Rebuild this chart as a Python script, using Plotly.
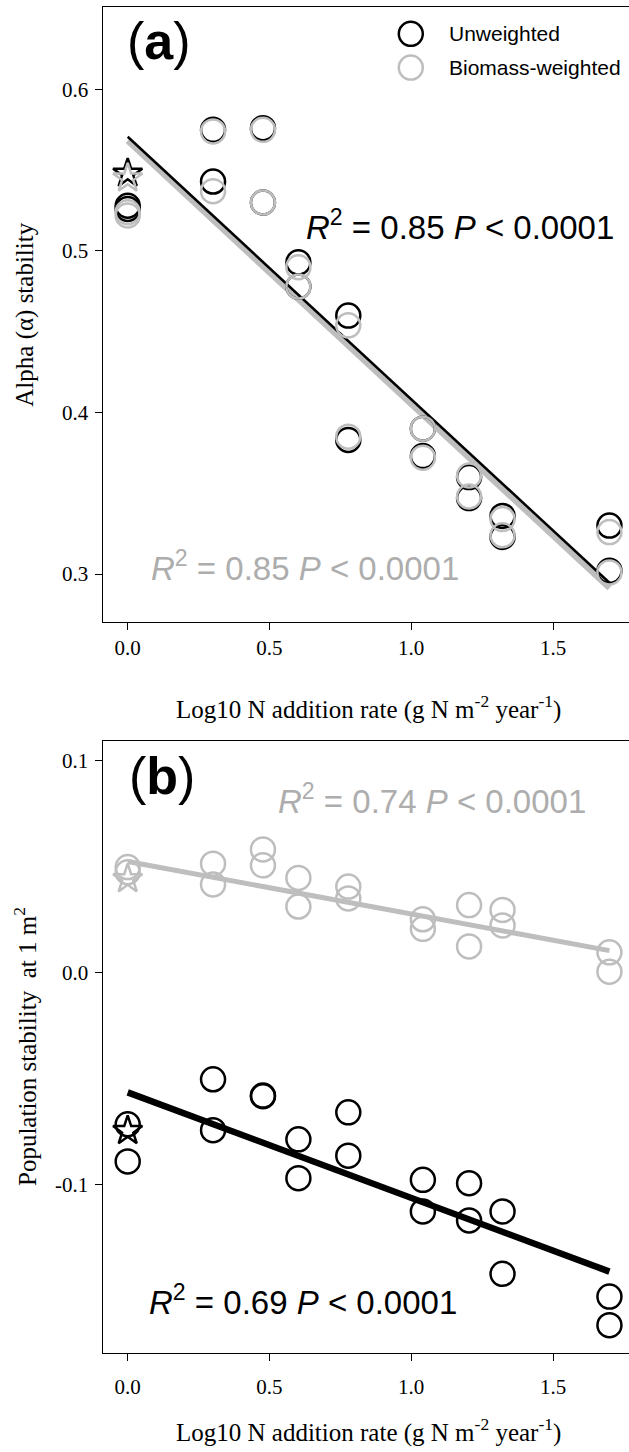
import plotly.graph_objects as go
import numpy as np

# ---------------- data ----------------
x_levels = [0.0, 0.301, 0.477, 0.602, 0.778, 1.041, 1.204, 1.322, 1.699]

# Panel (a) alpha stability, two replicates per level
a_unw_1 = [0.528, 0.575, 0.576, 0.493, 0.460, 0.390, 0.360, 0.336, 0.330]
a_unw_2 = [0.526, 0.543, 0.530, 0.478, 0.383, 0.373, 0.347, 0.323, 0.302]
a_bw_1 = [0.524, 0.574, 0.575, 0.490, 0.454, 0.390, 0.361, 0.334, 0.326]
a_bw_2 = [0.522, 0.537, 0.530, 0.478, 0.385, 0.372, 0.348, 0.324, 0.301]
a_star_unw = 0.548
a_star_bw = 0.545
a_fit_unw = (0.5707, -0.1625)   # intercept, slope
a_fit_bw = (0.5682, -0.1630)

# Panel (b) population stability at 1 m2
b_unw_1 = [-0.0715, -0.0503, -0.0580, -0.0786, -0.0659, -0.0977, -0.0993, -0.1126, -0.1527]
b_unw_2 = [-0.0890, -0.0743, -0.0583, -0.0969, -0.0863, -0.1126, -0.1168, -0.1420, -0.1662]
b_bw_1 = [0.0497, 0.0513, 0.0580, 0.0446, 0.0405, 0.0251, 0.0318, 0.0295, 0.0095]
b_bw_2 = [0.0473, 0.0415, 0.0505, 0.0311, 0.0349, 0.0206, 0.0123, 0.0222, 0.0004]
b_star_unw = -0.0746
b_star_bw = 0.0441
b_fit_unw = (-0.0565, -0.0497)
b_fit_bw = (0.0523, -0.0247)

x_ticks = [0, 0.5, 1.0, 1.5]
x_ticktext = ["0.0", "0.5", "1.0", "1.5"]
ya_ticks = [0.3, 0.4, 0.5, 0.6]
ya_ticktext = ["0.3", "0.4", "0.5", "0.6"]
yb_ticks = [-0.1, 0.0, 0.1]
yb_ticktext = ["-0.1", "0.0", "0.1"]

labels = ["Unweighted", "Biomass-weighted"]

# ---------------- style ----------------
W, H = 629, 1452
BLACK = "#000000"
GREY = "#BEBEBE"
GREY_TXT = "#ADADAD"
SANS = "Liberation Sans, Arial, sans-serif"
SERIF = "Liberation Serif, Times New Roman, serif"
MS = 24
MLW = 2.5

fig = go.Figure()


def add_points(xs, ys, color, xa, ya, symbol="circle-open", size=MS):
    fig.add_trace(go.Scatter(
        x=xs, y=ys, mode="markers", xaxis=xa, yaxis=ya, showlegend=False,
        marker=dict(symbol=symbol, size=size, color=color, line=dict(width=MLW, color=color)),
        hoverinfo="skip"))


def add_fit(fit, color, width, xa, ya):
    xs = np.array([min(x_levels), max(x_levels)])
    ys = fit[0] + fit[1] * xs
    fig.add_trace(go.Scatter(x=xs, y=ys, mode="lines", xaxis=xa, yaxis=ya, showlegend=False,
                             line=dict(color=color, width=width), hoverinfo="skip"))


# Panel (a)
add_fit(a_fit_bw, GREY, 6, "x", "y")
add_fit(a_fit_unw, BLACK, 2.5, "x", "y")
add_points(x_levels + x_levels, a_unw_1 + a_unw_2, BLACK, "x", "y")
add_points([0.0], [a_star_unw], BLACK, "x", "y", symbol="star-open", size=22)
add_points(x_levels + x_levels, a_bw_1 + a_bw_2, GREY, "x", "y")
add_points([0.0], [a_star_bw], GREY, "x", "y", symbol="star-open", size=22)

# Panel (b)
add_fit(b_fit_bw, GREY, 5, "x2", "y2")
add_fit(b_fit_unw, BLACK, 6.5, "x2", "y2")
add_points(x_levels + x_levels, b_unw_1 + b_unw_2, BLACK, "x2", "y2")
add_points([0.0], [b_star_unw], BLACK, "x2", "y2", symbol="star-open", size=22)
add_points(x_levels + x_levels, b_bw_1 + b_bw_2, GREY, "x2", "y2")
add_points([0.0], [b_star_bw], GREY, "x2", "y2", symbol="star-open", size=22)

xr = [-0.0857, 1.768]
xdom = [103.4 / W, 1.0]
ya_dom = [1 - 622 / H, 1 - 7.4 / H]
yb_dom = [1 - 1352.8 / H, 1 - 741 / H]

common_x = dict(range=xr, domain=xdom, tickmode="array", tickvals=x_ticks, ticktext=x_ticktext,
                ticks="outside", ticklen=7, tickwidth=1, tickcolor=BLACK,
                showline=True, linecolor=BLACK, linewidth=1, mirror=True,
                showgrid=False, zeroline=False,
                tickfont=dict(family=SERIF, size=21, color=BLACK))
common_y = dict(ticks="outside", ticklen=7, tickwidth=1, tickcolor=BLACK,
                showline=True, linecolor=BLACK, linewidth=1, mirror=False,
                showgrid=False, zeroline=False, tickmode="array", ticklabelstandoff=3,
                tickfont=dict(family=SERIF, size=21, color=BLACK))

fig.update_layout(
    width=W, height=H, margin=dict(l=0, r=0, t=0, b=0),
    paper_bgcolor="white", plot_bgcolor="white", showlegend=False,
    xaxis=dict(**common_x, anchor="y"),
    yaxis=dict(**common_y, range=[0.2703, 0.6508], domain=ya_dom, anchor="x",
               tickvals=ya_ticks, ticktext=ya_ticktext),
    xaxis2=dict(**common_x, anchor="y2", ticklabelstandoff=8),
    yaxis2=dict(**common_y, range=[-0.1792, 0.1091], domain=yb_dom, anchor="x2",
                tickvals=yb_ticks, ticktext=yb_ticktext),
)

ann = []
r2 = "<i>R</i><sup>2</sup> = {} <i>P</i> &lt; 0.0001"
ann.append(dict(text="(<b>a</b>)", x=-0.0085, y=0.6300, xref="x", yref="y", xanchor="left",
                yanchor="middle", showarrow=False, font=dict(family=SANS, size=52, color=BLACK)))
ann.append(dict(text=r2.format("0.85"), x=0.6225, y=0.5160, xref="x", yref="y", xanchor="left",
                yanchor="middle", showarrow=False, font=dict(family=SANS, size=33, color=BLACK)))
ann.append(dict(text=r2.format("0.85"), x=0.0750, y=0.3050, xref="x", yref="y", xanchor="left",
                yanchor="middle", showarrow=False, font=dict(family=SANS, size=33, color=GREY_TXT)))
ann.append(dict(text="(<b>b</b>)", x=-0.0015, y=0.0926, xref="x2", yref="y2", xanchor="left",
                yanchor="middle", showarrow=False, font=dict(family=SANS, size=52, color=BLACK)))
ann.append(dict(text=r2.format("0.74"), x=0.522, y=0.0818, xref="x2", yref="y2", xanchor="left",
                yanchor="middle", showarrow=False, font=dict(family=SANS, size=33, color=GREY_TXT)))
ann.append(dict(text=r2.format("0.69"), x=0.069, y=-0.1545, xref="x2", yref="y2", xanchor="left",
                yanchor="middle", showarrow=False, font=dict(family=SANS, size=33, color=BLACK)))

# legend text
ann.append(dict(text=labels[0], x=447 / W, y=1 - 33.8 / H, xref="paper", yref="paper", xanchor="left",
                yanchor="middle", showarrow=False, font=dict(family=SANS, size=21, color=BLACK)))
ann.append(dict(text=labels[1], x=447 / W, y=1 - 67.6 / H, xref="paper", yref="paper", xanchor="left",
                yanchor="middle", showarrow=False, font=dict(family=SANS, size=21, color=BLACK)))

# axis titles
xt = "Log10 N addition rate (g N m<sup>-2</sup> year<sup>-1</sup>)"
ann.append(dict(text=xt, x=368 / W, y=1 - 708 / H, xref="paper", yref="paper", xanchor="center",
                yanchor="middle", showarrow=False, font=dict(family=SERIF, size=25, color=BLACK)))
ann.append(dict(text=xt, x=368 / W, y=1 - 1430 / H, xref="paper", yref="paper", xanchor="center",
                yanchor="middle", showarrow=False, font=dict(family=SERIF, size=25, color=BLACK)))
ann.append(dict(text="Alpha (α) stability", x=25 / W, y=1 - 314.7 / H, xref="paper", yref="paper",
                xanchor="center", yanchor="middle", textangle=-90, showarrow=False,
                font=dict(family=SERIF, size=25, color=BLACK)))
ann.append(dict(text="Population stability  at 1 m<sup>2</sup>", x=25 / W, y=1 - 1047 / H,
                xref="paper", yref="paper", xanchor="center", yanchor="middle", textangle=-90,
                showarrow=False, font=dict(family=SERIF, size=25, color=BLACK)))

fig.update_layout(annotations=ann)

# legend symbols (circles drawn in pixel size around paper anchors)
shapes = []
for yc, col in [(1 - 33.8 / H, BLACK), (1 - 67.6 / H, GREY)]:
    shapes.append(dict(type="circle", xref="paper", yref="paper", xsizemode="pixel", ysizemode="pixel",
                       xanchor=410.8 / W, yanchor=yc, x0=-12, x1=12, y0=-12, y1=12,
                       line=dict(color=col, width=MLW)))
fig.update_layout(shapes=shapes)

fig.write_html("out.html", config={"displayModeBar": False},
               post_script="document.body.style.margin='0px';")
